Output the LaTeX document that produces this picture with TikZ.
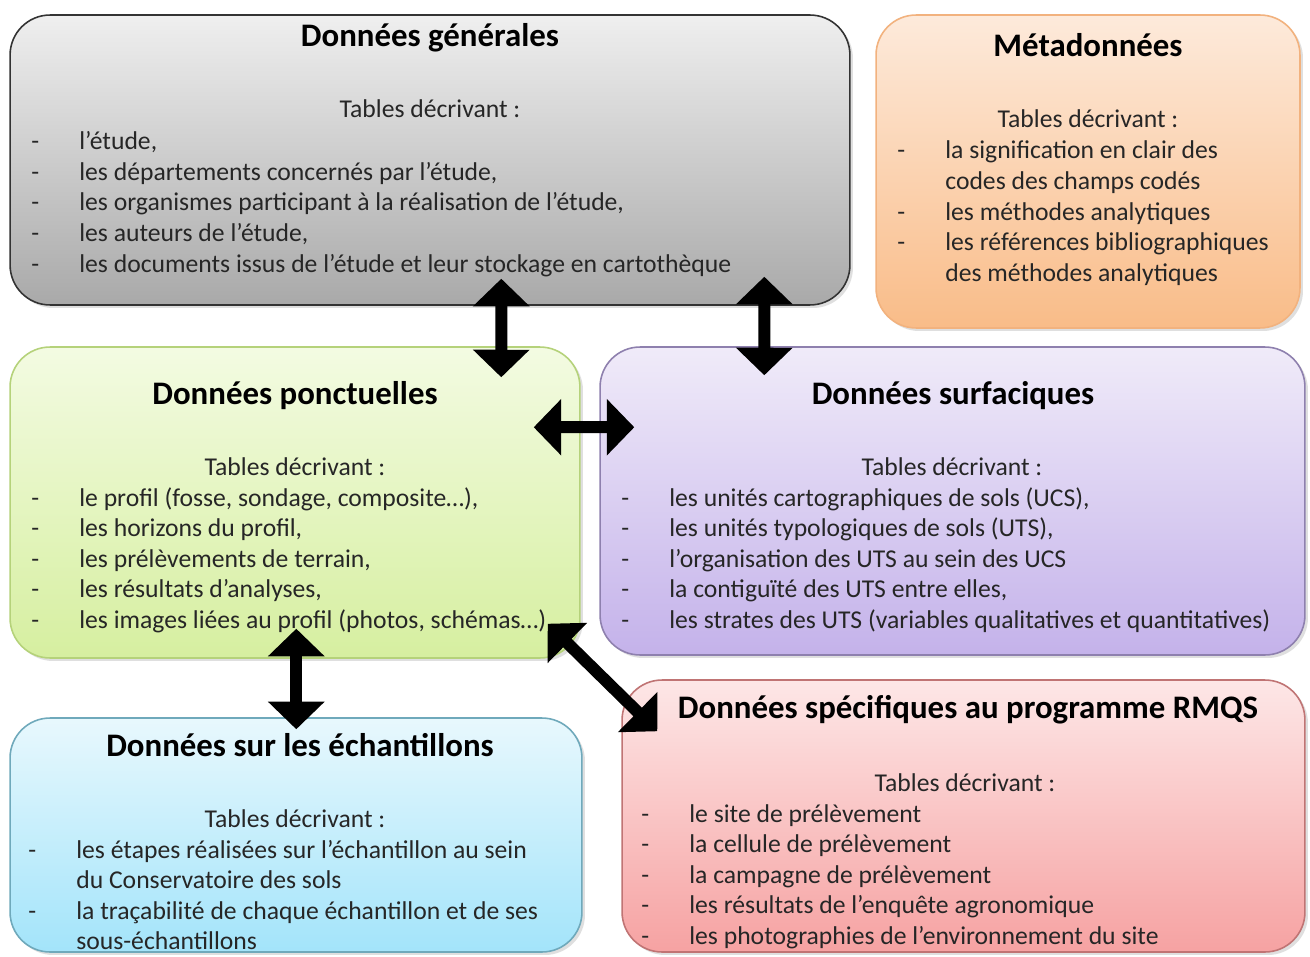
\documentclass[tikz,border=0pt]{standalone}
\usepackage{fontspec}
\setmainfont{Carlito}
\usetikzlibrary{arrows.meta,calc,shadows}

\definecolor{txt}{HTML}{262626}
\definecolor{genH}{HTML}{EFEFEF}\definecolor{genB}{HTML}{A9A9A9}
\definecolor{metaH}{HTML}{FDEADB}\definecolor{metaB}{HTML}{F9BC88}\definecolor{metaC}{HTML}{F2B27E}
\definecolor{poncH}{HTML}{F3FBE2}\definecolor{poncB}{HTML}{D6EFA0}\definecolor{poncC}{HTML}{B5D27A}
\definecolor{surfH}{HTML}{F0EBF9}\definecolor{surfB}{HTML}{C4B2EA}\definecolor{surfC}{HTML}{8E80AE}
\definecolor{echH}{HTML}{E8F8FD}\definecolor{echB}{HTML}{A3E4FA}\definecolor{echC}{HTML}{6FA9BB}
\definecolor{rmqsH}{HTML}{FDE7E7}\definecolor{rmqsB}{HTML}{F6A2A2}\definecolor{rmqsC}{HTML}{C07474}
\tikzset{
  box/.style={rounded corners=0.8cm, line width=0.9pt, drop shadow={opacity=0.25,shadow xshift=0.06cm,shadow yshift=-0.06cm}},
  title/.style={anchor=base, font=\fontsize{18.7}{22}\bfseries\selectfont, text=black, inner sep=0pt},
  body/.style={anchor=base, font=\fontsize{14.6}{17.36}\selectfont, text=txt, inner sep=0pt},
  items/.style={anchor=base west, font=\fontsize{14.6}{17.36}\selectfont, text=txt, inner sep=0pt},
  dbl/.style={line width=0.24cm, {Triangle[width=1.1cm,length=0.55cm]}-{Triangle[width=1.1cm,length=0.55cm]}}
}
\newcommand{\liste}[1]{\begin{tabular}[t]{@{}p{0.96cm}@{}l@{}}#1\end{tabular}}

\begin{document}
\begin{tikzpicture}[x=0.02cm,y=-0.02cm]
  \clip (0,0) rectangle (1310,956);
  \fill[white] (0,0) rectangle (1310,956);

  % les six blocs
  \node[box, draw=black!80, top color=genH, bottom color=genB, minimum width=16.8cm, minimum height=5.8cm] (gen) at (430,160) {};
  \node[box, draw=metaC, top color=metaH, bottom color=metaB, minimum width=8.48cm, minimum height=6.26cm] (meta) at (1088,171.5) {};
  \node[box, draw=poncC, top color=poncH, bottom color=poncB, minimum width=11.4cm, minimum height=6.22cm] (ponc) at (295,502.5) {};
  \node[box, draw=surfC, top color=surfH, bottom color=surfB, minimum width=14.1cm, minimum height=6.16cm] (surf) at (952.5,501) {};
  \node[box, draw=echC, top color=echH, bottom color=echB, minimum width=11.44cm, minimum height=4.68cm] (ech) at (296,835) {};
  \node[box, draw=rmqsC, top color=rmqsH, bottom color=rmqsB, minimum width=13.66cm, minimum height=5.44cm] (rmqs) at (963.5,816) {};

  % titres
  \node[title] (genT) at (430,47) {Données générales};
  \node[title] (metaT) at (1088,57) {Métadonnées};
  \node[title] (poncT) at (295,404) {Données ponctuelles};
  \node[title] (surfT) at (953,404) {Données surfaciques};
  \node[title] (echT) at (300,756) {Données sur les échantillons};
  \node[title] (rmqsT) at (968,718) {Données spécifiques au programme RMQS};

  \node[body] (genD) at (430,118) {Tables décrivant :};
  \node[body] (metaD) at (1088,128) {Tables décrivant :};
  \node[body] (poncD) at (295,475) {Tables décrivant :};
  \node[body] (surfD) at (952,475) {Tables décrivant :};
  \node[body] (echD) at (295,827) {Tables décrivant :};
  \node[body] (rmqsD) at (965,791) {Tables décrivant :};

  % listes
  \node[items] (genL) at (31,150) {\liste{
    - & l’étude,\\
    - & les départements concernés par l’étude,\\
    - & les organismes participant à la réalisation de l’étude,\\
    - & les auteurs de l’étude,\\
    - & les documents issus de l’étude et leur stockage en cartothèque}};
  \node[items] (metaL) at (897,159) {\liste{
    - & la signification en clair des\\
      & codes des champs codés\\
    - & les méthodes analytiques\\
    - & les références bibliographiques\\
      & des méthodes analytiques}};
  \node[items] (poncL) at (31,506) {\liste{
    - & le profil (fosse, sondage, composite…),\\
    - & les horizons du profil,\\
    - & les prélèvements de terrain,\\
    - & les résultats d’analyses,\\
    - & les images liées au profil (photos, schémas…)}};
  \node[items] (surfL) at (621,506) {\liste{
    - & les unités cartographiques de sols (UCS),\\
    - & les unités typologiques de sols (UTS),\\
    - & l’organisation des UTS au sein des UCS\\
    - & la contiguïté des UTS entre elles,\\
    - & les strates des UTS (variables qualitatives et quantitatives)}};
  \node[items] (echL) at (28,858) {\liste{
    - & les étapes réalisées sur l’échantillon au sein\\
      & du Conservatoire des sols\\
    - & la traçabilité de chaque échantillon et de ses\\
      & sous-échantillons}};
  \node[items] (rmqsL) at (641,822) {\liste{
    - & le site de prélèvement\\
    - & la cellule de prélèvement\\
    - & la campagne de prélèvement\\
    - & les résultats de l’enquête agronomique\\
    - & les photographies de l’environnement du site}};

  % liens
  \draw[dbl] ($(gen.south west)+(492,-27)$) -- ($(ponc.north west)+(492,31)$);
  \draw[dbl] ($(gen.south west)+(755,-29)$) -- ($(surf.north west)+(165,29)$);
  \draw[dbl] ($(ponc.north east)+(-47,81)$) -- ($(surf.north west)+(35,81)$);
  \draw[dbl] ($(ponc.south west)+(287,-30)$) -- ($(ech.north west)+(287,12)$);
  \draw[dbl] ($(ponc.south east)+(-33,-35)$) -- ($(rmqs.north west)+(36,52)$);
\end{tikzpicture}
\end{document}
